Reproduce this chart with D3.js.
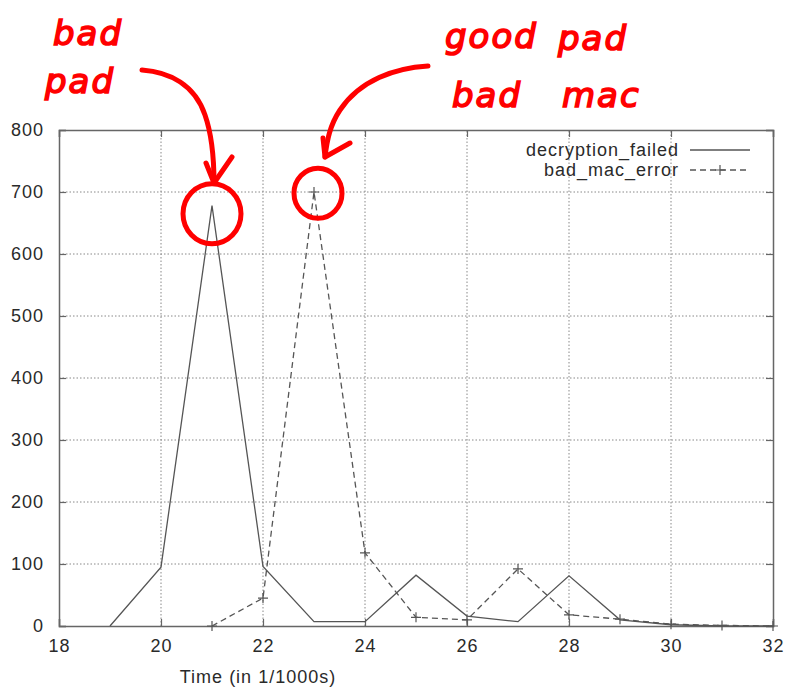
<!DOCTYPE html>
<html><head><meta charset="utf-8">
<script src="https://cdn.jsdelivr.net/npm/d3@7"></script>
<style>body{margin:0;background:#fff}svg{display:block}</style>
</head><body>
<script>
const times = [19,20,21,22,23,24,25,26,27,28,29,30,31,32];
const decryptionFailed = [0,95,678,96,7,7,82,16,7,81,10,2,0,0];
const macTimes = [21,22,23,24,25,26,27,28,29,30,31,32];
const badMacError = [0,45,700,118,14,10,92,18,11,3,1,0];
const xTicks = [18,20,22,24,26,28,30,32];
const yTicks = [0,100,200,300,400,500,600,700,800];
const seriesNames = ["decryption_failed","bad_mac_error"];
const xLabel = "Time (in 1/1000s)";

(function(){
const W=786,H=687;
const svg=d3.select("body").append("svg").attr("width",W).attr("height",H);
const x=d3.scaleLinear().domain([18,32]).range([59,773]);
const y=d3.scaleLinear().domain([0,800]).range([626,130]);
const font="'Liberation Sans', Arial, sans-serif";
const axisCol="#666", lineCol="#555", txtCol="#2a2a2a";
const FS=18, LS=1;

const g=svg.append("g");
g.selectAll(".gx").data(xTicks.slice(1,-1)).join("line")
 .attr("x1",d=>x(d)).attr("x2",d=>x(d)).attr("y1",y(0)).attr("y2",y(800))
 .attr("stroke","#888").attr("stroke-width",1).attr("stroke-dasharray","1.5,2");
g.selectAll(".gy").data(yTicks.slice(1,-1)).join("line")
 .attr("y1",d=>y(d)).attr("y2",d=>y(d)).attr("x1",x(18)).attr("x2",x(32))
 .attr("stroke","#888").attr("stroke-width",1).attr("stroke-dasharray","1.5,2");

const axB=d3.axisBottom(x).tickValues(xTicks).tickSize(-7).tickPadding(13).tickFormat(d3.format("d"));
const axL=d3.axisLeft(y).tickValues(yTicks).tickSize(-7).tickPadding(15).tickFormat(d3.format("d"));
const axT=d3.axisTop(x).tickValues(xTicks).tickSize(-7).tickFormat("");
const axR=d3.axisRight(y).tickValues(yTicks).tickSize(-7).tickFormat("");
function style(sel){sel.select(".domain").attr("stroke",axisCol).attr("stroke-width",1.5);
 sel.selectAll(".tick line").attr("stroke",axisCol).attr("stroke-width",1.2);
 sel.selectAll(".tick text").attr("fill",txtCol).attr("font-family",font).attr("font-size",FS).attr("letter-spacing",LS);}
svg.append("g").attr("transform",`translate(0,${y(0)})`).call(axB).call(style);
svg.append("g").attr("transform",`translate(${x(18)},0)`).call(axL).call(style);
svg.append("g").attr("transform",`translate(0,${y(800)})`).call(axT).call(style);
svg.append("g").attr("transform",`translate(${x(32)},0)`).call(axR).call(style);

svg.append("text").attr("x",258).attr("y",683).attr("text-anchor","middle")
 .attr("font-family",font).attr("font-size",FS).attr("letter-spacing",LS).attr("fill",txtCol).text(xLabel);

const line=d3.line().x(d=>x(d[0])).y(d=>y(d[1]));
const d1=times.map((t,i)=>[t,decryptionFailed[i]]);
const d2=macTimes.map((t,i)=>[t,badMacError[i]]);
svg.append("path").datum(d1).attr("d",line).attr("fill","none").attr("stroke",lineCol).attr("stroke-width",1.3);
svg.append("path").datum(d2).attr("d",line).attr("fill","none").attr("stroke",lineCol).attr("stroke-width",1.3).attr("stroke-dasharray","6,4");
svg.selectAll(".pt").data(d2).join("path")
 .attr("d","M-5,0h10M0,-5v10")
 .attr("transform",d=>`translate(${x(d[0])},${y(d[1])})`)
 .attr("stroke",lineCol).attr("stroke-width",1.2).attr("fill","none");

const lg=svg.append("g").attr("font-family",font).attr("font-size",FS).attr("letter-spacing",LS).attr("fill",txtCol);
lg.append("text").attr("x",679).attr("y",156).attr("text-anchor","end").text(seriesNames[0]);
lg.append("text").attr("x",679).attr("y",176).attr("text-anchor","end").text(seriesNames[1]);
lg.append("line").attr("x1",690).attr("x2",750).attr("y1",150).attr("y2",150).attr("stroke",lineCol).attr("stroke-width",1.3);
lg.append("line").attr("x1",690).attr("x2",750).attr("y1",170).attr("y2",170).attr("stroke",lineCol).attr("stroke-width",1.3).attr("stroke-dasharray","6,4");
lg.append("path").attr("d","M715,170h10M720,165v10").attr("stroke",lineCol).attr("stroke-width",1.2);

const red="#f00";
const an=svg.append("g").attr("fill",red).attr("stroke",red).attr("stroke-width",1.6)
 .attr("font-family","'DejaVu Sans', sans-serif")
 .attr("font-size",34).attr("font-style","italic").attr("letter-spacing",2);
an.append("text").attr("x",53).attr("y",45).text("bad");
an.append("text").attr("x",45).attr("y",93).text("pad");
an.append("text").attr("x",445).attr("y",48).text("good");
an.append("text").attr("x",558).attr("y",50).text("pad");
an.append("text").attr("x",452).attr("y",107).text("bad");
an.append("text").attr("x",562).attr("y",107).text("mac");
const st={stroke:red,"stroke-width":5,fill:"none","stroke-linecap":"round","stroke-linejoin":"round"};
function s(sel){for(const k in st)sel.attr(k,st[k]);return sel;}
s(svg.append("ellipse").attr("cx",x(21)).attr("cy",y(665)).attr("rx",29).attr("ry",30));
s(svg.append("ellipse").attr("cx",x(23)+4).attr("cy",y(698)).attr("rx",24).attr("ry",25));
s(svg.append("path").attr("d","M142,70 C170,72 195,85 205,115 C212,135 214,160 214,183"));
s(svg.append("path").attr("d","M206,163 L214,183 L232,157"));
s(svg.append("path").attr("d","M428,66 C395,68 360,80 340,110 C330,125 327,140 325,157"));
s(svg.append("path").attr("d","M323,138 L325,157 L350,143"));
})();
</script>
</body></html>
